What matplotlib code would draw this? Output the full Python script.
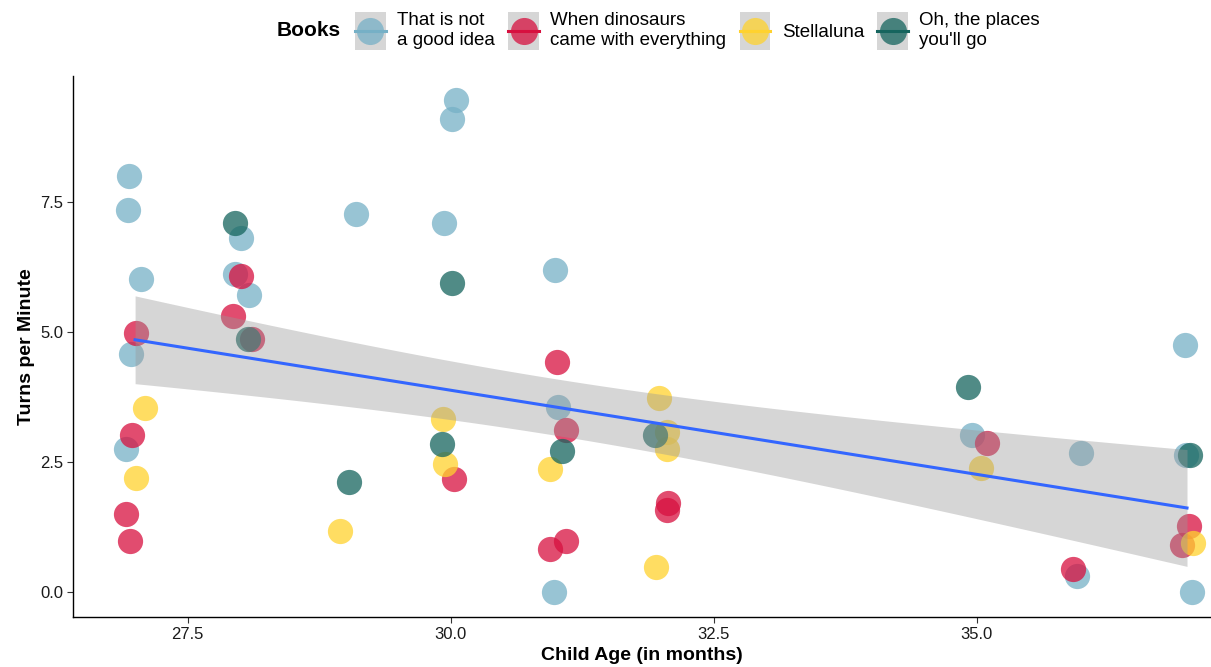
import numpy as np
import matplotlib
matplotlib.use('Agg')
import matplotlib.pyplot as plt
from matplotlib.lines import Line2D
from matplotlib.patches import Rectangle
from matplotlib.legend_handler import HandlerBase

plt.rcParams['font.family'] = ['Liberation Sans', 'DejaVu Sans']

# 每本书的点：x 为抖动后的月龄，y 为每分钟翻页数
book_names = ['That is not\na good idea', 'When dinosaurs\ncame with everything',
              'Stellaluna', "Oh, the places\nyou'll go"]
book_colors = ['#76B0C6', '#D7103F', '#FFD22E', '#16655E']

not_good_x = [26.94, 26.93, 27.06, 26.96, 26.91, 28.01, 27.95, 28.08, 29.10, 30.05, 30.01,
              29.94, 30.99, 31.02, 30.98, 34.96, 35.99, 35.95, 36.98, 36.99, 37.05]
not_good_y = [8.00, 7.34, 6.01, 4.58, 2.75, 6.80, 6.12, 5.71, 7.27, 9.46, 9.09,
              7.09, 6.19, 3.56, 0.00, 3.01, 2.67, 0.31, 4.75, 2.64, 0.00]

dino_x = [27.01, 26.97, 26.91, 26.95, 28.01, 27.93, 28.11, 31.01, 31.10, 30.03, 30.94,
          31.10, 32.07, 32.06, 35.10, 35.92, 37.02, 36.95]
dino_y = [4.98, 3.01, 1.50, 0.99, 6.07, 5.31, 4.87, 4.42, 3.12, 2.17, 0.83,
          0.99, 1.71, 1.58, 2.87, 0.44, 1.26, 0.90]

stella_x = [27.09, 27.01, 28.95, 29.93, 29.95, 30.94, 31.98, 32.06, 32.06, 31.95, 35.04, 37.06]
stella_y = [3.53, 2.20, 1.18, 3.33, 2.47, 2.37, 3.73, 3.08, 2.74, 0.49, 2.39, 0.95]

places_x = [27.95, 28.07, 29.03, 30.01, 29.92, 31.06, 31.94, 34.92, 37.03]
places_y = [7.10, 4.86, 2.11, 5.94, 2.85, 2.72, 3.01, 3.95, 2.63]

series = [(not_good_x, not_good_y), (dino_x, dino_y), (stella_x, stella_y), (places_x, places_y)]

x_ticks = [27.5, 30.0, 32.5, 35.0]
y_ticks = [0.0, 2.5, 5.0, 7.5]


class BookKey(HandlerBase):
    """灰色底块 + 半透明圆点 + 彩色横线，全部居中"""

    def create_artists(self, legend, orig_handle, xdescent, ydescent, width, height,
                       fontsize, trans):
        c = orig_handle.get_color()
        cx = width / 2 - xdescent
        cy = height / 2 - ydescent
        bg = Rectangle((-xdescent, -ydescent), width, height, facecolor='#D6D6D6',
                       edgecolor='none', transform=trans)
        dot = Line2D([cx], [cy], linestyle='none', marker='o', markersize=19.5,
                     markerfacecolor=c, markeredgewidth=0, alpha=0.75, transform=trans)
        ln = Line2D([-xdescent, width - xdescent], [cy, cy], color=c, lw=2.2,
                    transform=trans)
        return [bg, dot, ln]


fig = plt.figure(figsize=(12.11, 6.67), dpi=100)
ax = fig.add_axes([0.0603, 0.075, 0.939, 0.811])

for (xs, ys), c in zip(series, book_colors):
    ax.scatter(xs, ys, s=330, color=c, alpha=0.75, linewidths=0, zorder=2)

# 线性回归（按整月龄拟合）及 95% 置信带
all_x = np.round(np.concatenate([np.array(s[0]) for s in series]))
all_y = np.concatenate([np.array(s[1]) for s in series])
n = len(all_x)
slope, intercept = np.polyfit(all_x, all_y, 1)
resid = all_y - (intercept + slope * all_x)
sigma = np.sqrt(np.sum(resid ** 2) / (n - 2))
x_bar = all_x.mean()
sxx = np.sum((all_x - x_bar) ** 2)
t_crit = 2.0017  # t(0.975, df=58)
grid = np.linspace(all_x.min(), all_x.max(), 80)
fit = intercept + slope * grid
se = sigma * np.sqrt(1 / n + (grid - x_bar) ** 2 / sxx)
ax.fill_between(grid, fit - t_crit * se, fit + t_crit * se, color='#999999', alpha=0.4,
                linewidth=0, zorder=3)
ax.plot(grid, fit, color='#3366FF', lw=2.2, zorder=4)

ax.set_xlim(26.41, 37.22)
ax.set_ylim(-0.48, 9.92)
ax.set_xticks(x_ticks)
ax.set_yticks(y_ticks)
ax.set_xticklabels([f'{v:.1f}' for v in x_ticks])
ax.set_yticklabels([f'{v:.1f}' for v in y_ticks])
ax.tick_params(labelsize=12, length=4, width=0.8, colors='#333333', labelcolor='#1a1a1a', pad=3)
for side in ['top', 'right']:
    ax.spines[side].set_visible(False)
for side in ['left', 'bottom']:
    ax.spines[side].set_linewidth(1.0)
    ax.spines[side].set_color('black')

ax.set_xlabel('Child Age (in months)', fontsize=14, fontweight='bold', labelpad=4)
ax.set_ylabel('Turns per Minute', fontsize=14, fontweight='bold', labelpad=4)

# 图例
handles = [Line2D([], [], color=c) for c in book_colors]
leg = fig.legend(handles, book_names, handler_map={Line2D: BookKey()},
                 loc='center left', bbox_to_anchor=(355 / 1211, 1 - 31 / 667), ncol=4,
                 frameon=False, fontsize=13.5, borderpad=0, borderaxespad=0,
                 handlelength=1.65, handleheight=2.74, handletextpad=0.6, columnspacing=0.7)
for t in leg.get_texts():
    t.set_linespacing(1.25)
fig.text(277 / 1211, 1 - 31 / 667, 'Books', fontsize=15, fontweight='bold',
         ha='left', va='center')

fig.savefig('out.png', dpi=100)
